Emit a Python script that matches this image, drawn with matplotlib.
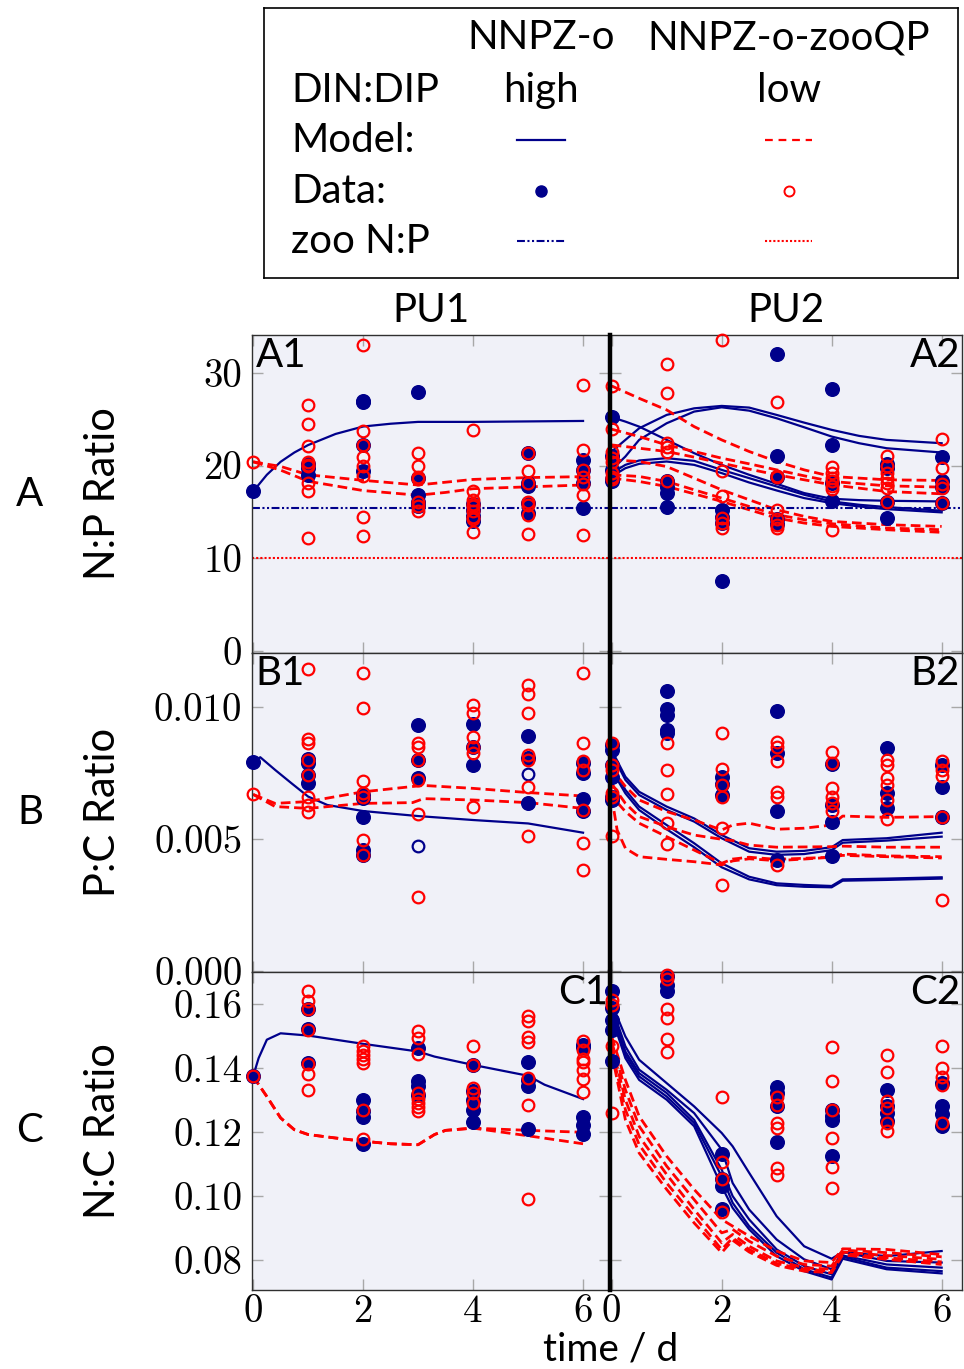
import matplotlib.pyplot as plt
from matplotlib.lines import Line2D

plt.rcParams['font.family'] = ['Lato', 'DejaVu Sans']

NAVY = '#00008b'
RED = '#ff0000'
BG = '#f0f1f8'

# sampling days of the mesocosm data
days = [0, 1, 2, 3, 4, 5, 6]

# ---------------- A: N:P ratio ----------------
a1_high = [[17.2], [20.2, 19.7, 19.0], [27.0, 26.8, 22.2, 19.4],
           [27.9, 18.6, 16.8, 16.1, 15.6], [15.9, 15.2, 14.6, 14.0],
           [21.3, 18.1, 17.8, 16.0, 14.9], [20.6, 19.5, 18.1, 15.4]]
a1_low = [[20.4], [26.5, 24.5, 22.1, 20.4, 20.1, 19.9, 18.1, 17.2, 12.2],
          [33.0, 23.7, 22.2, 20.9, 19.9, 18.9, 14.4, 12.4],
          [21.3, 20.0, 18.8, 18.5, 16.1, 15.6, 15.1],
          [23.8, 17.2, 16.3, 15.9, 15.6, 15.1, 14.5, 14.2, 12.8],
          [21.3, 19.4, 18.1, 16.1, 15.7, 14.7, 12.6],
          [28.7, 21.7, 19.5, 18.8, 18.0, 16.8, 12.5]]
a2_high = [[25.2, 21.0, 19.5, 18.5, 18.3], [18.3, 17.7, 17.0, 15.5],
           [15.2, 14.5, 13.8, 7.6], [32.0, 21.0, 18.8, 14.2, 13.7],
           [28.2, 22.2, 18.1, 16.2], [20.2, 19.7, 16.1, 14.3],
           [20.9, 18.3, 17.7, 16.0]]
a2_low = [[28.6, 23.9, 21.5, 20.8, 20.4, 19.2, 18.8, 18.5],
          [30.9, 27.8, 22.4, 22.0, 21.5, 18.3],
          [33.5, 19.4, 16.7, 14.3, 13.8, 13.3],
          [26.8, 18.9, 18.8, 15.2, 14.2, 13.6, 13.3],
          [19.8, 19.2, 18.6, 18.3, 17.8, 17.5, 13.0],
          [21.0, 19.9, 19.2, 18.6, 18.1, 17.6, 16.1],
          [22.9, 19.7, 18.0, 17.6, 16.0]]

a1_t_high = [0, 0.25, 0.5, 0.75, 1, 1.5, 2, 2.5, 3, 4, 5, 6]
a1_model_high = [[17.2, 19.0, 20.4, 21.4, 22.2, 23.4, 24.2, 24.5, 24.7, 24.7, 24.75, 24.8]]
a1_t_low = [0, 0.5, 1, 2, 3, 3.5, 4, 5, 6]
a1_model_low = [[20.4, 19.9, 19.0, 18.4, 17.9, 18.2, 18.5, 18.7, 18.8],
                [20.4, 19.5, 18.3, 17.3, 16.8, 17.1, 17.5, 17.7, 17.9]]

a2_t_high = [0, 0.25, 0.5, 1, 1.5, 2, 2.5, 3, 3.5, 4, 4.5, 5, 6]
a2_model_high = [
    [25.20, 24.73, 24.19, 22.76, 21.33, 20.07, 19.00, 18.03, 17.03, 16.42, 16.27, 16.20, 16.13],
    [19.18, 20.07, 20.54, 20.79, 20.50, 19.53, 18.64, 17.74, 16.85, 16.13, 15.77, 15.52, 15.13],
    [18.82, 19.71, 20.18, 20.43, 20.07, 19.18, 18.17, 17.31, 16.49, 15.95, 15.59, 15.30, 14.95],
    [21.51, 22.76, 24.01, 25.45, 26.16, 26.42, 26.24, 25.45, 24.62, 23.84, 23.19, 22.76, 22.40],
    [19.53, 20.97, 22.76, 24.55, 25.81, 26.27, 25.91, 25.09, 24.12, 23.12, 22.40, 21.86, 21.40]]
a2_t_low = [0, 0.5, 1, 1.5, 2, 2.5, 3, 3.5, 4, 5, 6]
a2_model_low = [
    [28.57, 27.24, 25.99, 24.19, 22.76, 21.51, 20.43, 19.53, 18.82, 18.46, 18.39],
    [23.91, 23.12, 22.22, 21.51, 20.79, 20.18, 19.53, 18.89, 18.28, 17.81, 17.67],
    [22.22, 21.86, 21.51, 20.90, 20.25, 19.61, 19.00, 18.46, 17.92, 17.20, 16.95],
    [20.61, 20.43, 19.89, 18.64, 17.38, 16.31, 15.23, 14.52, 13.98, 13.62, 13.44],
    [19.00, 18.82, 18.28, 17.38, 16.49, 15.59, 14.70, 14.16, 13.73, 13.26, 13.08],
    [18.64, 18.28, 17.74, 16.95, 16.13, 15.23, 14.34, 13.80, 13.44, 13.08, 12.80]]

zoo_np_high = 15.4
zoo_np_low = 10.0

# ---------------- B: P:C ratio ----------------
b1_high = [[0.00792], [0.00803, 0.00788, 0.00744, 0.00713],
           [0.00669, 0.00656, 0.00584, 0.00461, 0.00439],
           [0.00933, 0.00801, 0.00734], [0.00937, 0.00851, 0.00782],
           [0.00892, 0.00807, 0.00637], [0.0079, 0.00753, 0.00654, 0.00608]]
b1_high_open_t = [3, 5]
b1_high_open = [0.00473, 0.00747]
b1_low = [[0.00671],
          [0.01147, 0.00879, 0.00866, 0.00801, 0.00744, 0.00662, 0.00631, 0.00602],
          [0.01132, 0.00999, 0.00719, 0.00675, 0.00662, 0.00498, 0.00442],
          [0.00866, 0.00851, 0.00801, 0.00725, 0.00596, 0.00282],
          [0.01009, 0.00977, 0.00887, 0.00849, 0.00826, 0.00622],
          [0.01084, 0.0105, 0.0098, 0.0082, 0.00801, 0.0070, 0.00511],
          [0.01129, 0.00866, 0.00795, 0.00763, 0.00612, 0.00486, 0.00385]]
b2_high = [[0.00858, 0.00838, 0.00782, 0.00737, 0.00662, 0.0065],
           [0.01062, 0.00992, 0.00971, 0.00914, 0.00902],
           [0.00737, 0.00708, 0.00669],
           [0.00987, 0.00826, 0.00608, 0.0042],
           [0.00785, 0.0063, 0.00564, 0.00438],
           [0.00847, 0.00674, 0.00618],
           [0.00782, 0.007, 0.00586]]
b2_low = [[0.00864, 0.00782, 0.00763, 0.00674, 0.00662, 0.00513],
          [0.00864, 0.00763, 0.00672, 0.00562, 0.00481],
          [0.00904, 0.00765, 0.00706, 0.00662, 0.00544, 0.00327],
          [0.00869, 0.0085, 0.00795, 0.00681, 0.00662, 0.00404],
          [0.00832, 0.00788, 0.00694, 0.00662, 0.00637, 0.00606],
          [0.00801, 0.00782, 0.00734, 0.00706, 0.00649, 0.00576],
          [0.00795, 0.00763, 0.00741, 0.00586, 0.00269]]

b1_t_high = [0, 0.13, 0.4, 0.7, 1, 1.35, 2, 3, 4, 5, 6]
b1_model_high = [[0.00792, 0.00811, 0.00763, 0.00712, 0.00662, 0.0063,
                  0.00607, 0.00588, 0.00573, 0.0056, 0.00525]]
b1_t_low = [0, 0.4, 1, 2, 2.9, 3.1, 4, 5, 6]
b1_model_low = [[0.0067, 0.00636, 0.00643, 0.0068, 0.0070, 0.00704, 0.00693, 0.00677, 0.00664],
                [0.0067, 0.00624, 0.00617, 0.00636, 0.00639, 0.00654, 0.00649, 0.00639, 0.00617]]

b2_t_high = [0, 0.25, 0.5, 1, 1.5, 2, 2.5, 3, 3.5, 4, 4.2, 5, 6]
b2_model_high = [
    [0.00838, 0.00737, 0.0068, 0.00624, 0.00579, 0.00516, 0.00466, 0.00453, 0.00456, 0.0047, 0.00497, 0.00504, 0.00525],
    [0.00826, 0.00725, 0.00668, 0.00611, 0.00567, 0.00504, 0.00453, 0.00441, 0.00444, 0.00459, 0.00487, 0.00495, 0.0051],
    [0.00782, 0.00687, 0.00624, 0.00554, 0.00485, 0.00409, 0.00358, 0.00333, 0.00327, 0.00323, 0.00348, 0.00351, 0.00356],
    [0.00763, 0.00674, 0.00611, 0.00538, 0.0047, 0.00394, 0.00348, 0.00326, 0.0032, 0.00318, 0.00343, 0.00346, 0.00351]]
b2_t_low = [0, 0.1, 0.25, 0.5, 1, 1.5, 2, 2.2, 2.5, 3, 3.5, 4, 4.2, 5, 6]
b2_model_low = [
    [0.00775, 0.0074, 0.0070, 0.00649, 0.00605, 0.00573, 0.00535, 0.00554, 0.00561, 0.00538, 0.00542, 0.00554, 0.00588, 0.00583, 0.00586],
    [0.00712, 0.0068, 0.00636, 0.00586, 0.00548, 0.00516, 0.0050, 0.00495, 0.00478, 0.0047, 0.00471, 0.00472, 0.00474, 0.0047, 0.0047],
    [0.00662, 0.00535, 0.00466, 0.00434, 0.00424, 0.00415, 0.00403, 0.00418, 0.00426, 0.00419, 0.00425, 0.00432, 0.00444, 0.00437, 0.00434],
    [0.00687, 0.0064, 0.00605, 0.00561, 0.0051, 0.00459, 0.00409, 0.00425, 0.00432, 0.00424, 0.00428, 0.00432, 0.00439, 0.00434, 0.00429]]

# ---------------- C: N:C ratio ----------------
c1_high = [[0.1374], [0.1584, 0.1522, 0.1416], [0.1301, 0.1265, 0.1246, 0.1161],
           [0.1463, 0.136, 0.1343, 0.1317], [0.1409, 0.1327, 0.1301, 0.127, 0.1232],
           [0.1418, 0.1364, 0.1343, 0.1208], [0.1473, 0.1465, 0.1246, 0.1221, 0.1194]]
c1_low = [[0.1374], [0.164, 0.1611, 0.1584, 0.152, 0.1413, 0.1382, 0.1331],
          [0.1468, 0.1454, 0.1442, 0.1428, 0.1416, 0.1268, 0.1179],
          [0.1517, 0.1494, 0.1444, 0.1322, 0.1304, 0.1291, 0.1278, 0.1265],
          [0.1468, 0.1411, 0.1338, 0.1322, 0.1291],
          [0.1562, 0.1546, 0.1496, 0.1483, 0.1369, 0.1286, 0.0989],
          [0.1486, 0.1458, 0.1428, 0.1418, 0.1395, 0.1366, 0.1324]]
c2_high = [[0.164, 0.1588, 0.1551, 0.152, 0.1421], [0.1687, 0.166, 0.1643],
           [0.113, 0.1052, 0.1031, 0.096], [0.1341, 0.1322, 0.1281, 0.1168],
           [0.127, 0.1249, 0.1236, 0.1125], [0.1331, 0.1281, 0.126, 0.1234],
           [0.1353, 0.1281, 0.1255, 0.122]]
c2_low = [[0.1614, 0.1598, 0.1468, 0.1258],
          [0.1692, 0.1678, 0.1584, 0.1556, 0.1491, 0.1452],
          [0.1309, 0.1106, 0.1054, 0.095],
          [0.1309, 0.1286, 0.1229, 0.1211, 0.1086, 0.1064],
          [0.1465, 0.1359, 0.127, 0.1182, 0.109, 0.1024],
          [0.1442, 0.1387, 0.1296, 0.1275, 0.1229, 0.1203],
          [0.147, 0.14, 0.1372, 0.1348, 0.1227]]

c1_t_high = [0, 0.1, 0.25, 0.5, 1, 2, 3, 3.3, 4, 5, 5.3, 6]
c1_model_high = [[0.1374, 0.1431, 0.1489, 0.1509, 0.1502, 0.1476, 0.1452,
                  0.1436, 0.141, 0.1376, 0.1348, 0.1303]]
c1_t_low = [0, 0.25, 0.5, 0.75, 1, 1.5, 2, 2.5, 3, 3.3, 3.5, 4, 5, 6]
c1_model_low = [
    [0.1374, 0.1311, 0.1244, 0.1207, 0.1192, 0.1181, 0.1171, 0.1163, 0.116, 0.1192, 0.1205, 0.1212, 0.1205, 0.1199],
    [0.1374, 0.1311, 0.1244, 0.1207, 0.1192, 0.1181, 0.1171, 0.1163, 0.116, 0.1192, 0.1205, 0.1212, 0.1188, 0.1163]]

c2_t = [0, 0.25, 0.5, 1, 1.5, 2, 2.2, 2.5, 3, 3.5, 4, 4.2, 5, 6]
c2_model_high = [
    [0.1603, 0.1499, 0.1426, 0.1353, 0.128, 0.1197, 0.1155, 0.1072, 0.0936, 0.0842, 0.0803, 0.0824, 0.0811, 0.0827],
    [0.1593, 0.1468, 0.1395, 0.1332, 0.1259, 0.1145, 0.104, 0.0957, 0.0863, 0.0801, 0.077, 0.0824, 0.0796, 0.0791],
    [0.1582, 0.1452, 0.1384, 0.1322, 0.1238, 0.1082, 0.0999, 0.0926, 0.0832, 0.078, 0.0754, 0.0813, 0.0785, 0.0775],
    [0.1572, 0.1442, 0.1374, 0.1311, 0.1228, 0.1061, 0.0978, 0.0905, 0.0822, 0.077, 0.0744, 0.0809, 0.0775, 0.0764],
    [0.1561, 0.1431, 0.1363, 0.1301, 0.1218, 0.103, 0.0962, 0.0895, 0.0811, 0.0764, 0.0738, 0.0803, 0.077, 0.0757]]
c2_model_low = [
    [0.1499, 0.1363, 0.1249, 0.1124, 0.102, 0.0926, 0.0905, 0.0874, 0.0827, 0.0796, 0.0791, 0.0834, 0.0832, 0.0816],
    [0.1483, 0.1332, 0.1218, 0.1093, 0.0988, 0.0884, 0.0895, 0.0858, 0.0811, 0.0785, 0.078, 0.083, 0.0822, 0.0809],
    [0.1473, 0.1301, 0.1186, 0.1067, 0.0957, 0.0853, 0.0879, 0.0842, 0.0796, 0.0775, 0.077, 0.0824, 0.0813, 0.0801],
    [0.1457, 0.127, 0.116, 0.104, 0.0936, 0.0832, 0.0868, 0.0832, 0.0788, 0.077, 0.0764, 0.082, 0.0806, 0.0793],
    [0.1447, 0.1238, 0.1134, 0.102, 0.0915, 0.0822, 0.0861, 0.0824, 0.0782, 0.0764, 0.0759, 0.0815, 0.0801, 0.0785]]

# axis ticks
x_ticks = [0, 2, 4, 6]
x_labels = ['0', '2', '4', '6']
a_ticks = [0, 10, 20, 30]
a_labels = ['0', '10', '20', '30']
b_ticks = [0.0, 0.005, 0.010]
b_labels = ['0.000', '0.005', '0.010']
c_ticks = [0.08, 0.10, 0.12, 0.14, 0.16]
c_labels = ['0.08', '0.10', '0.12', '0.14', '0.16']

# ---------------- figure ----------------
W, H = 964, 1369
fig = plt.figure(figsize=(W / 100, H / 100), dpi=100)


def px_box(x0, y0, x1, y1):
    return [x0 / W, 1 - y1 / H, (x1 - x0) / W, (y1 - y0) / H]


rows = [(335, 653), (653, 972), (972, 1290)]
cols = [(252, 610), (610, 962)]
xlims = [(-0.02, 6.49), (-0.03, 6.37)]
ylims = [(-0.2, 34.06), (-0.00003, 0.01206), (0.0705, 0.1701)]
yticks = [(a_ticks, a_labels), (b_ticks, b_labels), (c_ticks, c_labels)]

panels = [
    [(a1_high, a1_low, a1_t_high, a1_model_high, a1_t_low, a1_model_low),
     (a2_high, a2_low, a2_t_high, a2_model_high, a2_t_low, a2_model_low)],
    [(b1_high, b1_low, b1_t_high, b1_model_high, b1_t_low, b1_model_low),
     (b2_high, b2_low, b2_t_high, b2_model_high, b2_t_low, b2_model_low)],
    [(c1_high, c1_low, c1_t_high, c1_model_high, c1_t_low, c1_model_low),
     (c2_high, c2_low, c2_t, c2_model_high, c2_t, c2_model_low)],
]
names = [['A1', 'A2'], ['B1', 'B2'], ['C1', 'C2']]
name_left = [[True, False], [True, False], [False, False]]

axes = []
for r, (y0, y1) in enumerate(rows):
    for c, (x0, x1) in enumerate(cols):
        ax = fig.add_axes(px_box(x0, y0, x1, y1))
        ax.set_facecolor(BG)
        ax.set_xlim(*xlims[c])
        ax.set_ylim(*ylims[r])
        high, low, th, mh, tl, ml = panels[r][c]

        for vals in mh:
            ax.plot(th, vals, '-', color=NAVY, lw=1.6, zorder=2)
        for vals in ml:
            ax.plot(tl, vals, '--', color=RED, lw=2, dashes=(3.5, 1.8), zorder=2)
        if r == 0:
            ax.axhline(zoo_np_high, color=NAVY, lw=1.5, dashes=(3.8, 1.2, 1, 1.2, 1, 1.2), zorder=2)
            ax.axhline(zoo_np_low, color=RED, lw=1.5, dashes=(1, 1), zorder=2)

        for t, vals in zip(days, high):
            ax.plot([t] * len(vals), vals, 'o', color=NAVY, ms=9.8, mec=NAVY,
                    ls='none', clip_on=False, zorder=3)
        if r == 1 and c == 0:
            ax.plot(b1_high_open_t, b1_high_open, 'o', mfc='none', mec=NAVY, ms=8.4,
                    mew=1.6, ls='none', clip_on=False, zorder=3)
        for t, vals in zip(days, low):
            ax.plot([t] * len(vals), vals, 'o', mfc='none', mec=RED, ms=8.4, mew=1.6,
                    ls='none', clip_on=False, zorder=4)

        ticks, labels = yticks[r]
        if c == 0:
            ax.set_yticks(ticks, labels, fontfamily='cmr10', fontsize=28)
        else:
            ax.set_yticks(ticks)
            ax.tick_params(labelleft=False)
        if r == 2:
            ax.set_xticks(x_ticks, x_labels, fontfamily='cmr10', fontsize=28)
        else:
            ax.set_xticks(x_ticks)
            ax.tick_params(labelbottom=False)
        ax.tick_params(direction='in', length=8, width=1, color='#a8a8a8',
                       top=True, right=True, pad=7)
        ax.tick_params(axis='x', pad=3)

        for sp in ax.spines.values():
            sp.set_color('#303030')
            sp.set_linewidth(1.0)
        if c == 1:
            ax.spines['left'].set_color('black')
            ax.spines['left'].set_linewidth(3.2)
            ax.spines['left'].set_zorder(10)

        if name_left[r][c]:
            ax.text(0.01, 0.995, names[r][c], transform=ax.transAxes, ha='left',
                    va='top', fontsize=29)
        else:
            ax.text(0.995, 0.995, names[r][c], transform=ax.transAxes, ha='right',
                    va='top', fontsize=29)
        axes.append(ax)

# row and column annotations
row_letters = ['A', 'B', 'C']
row_titles = ['N:P Ratio', 'P:C Ratio', 'N:C Ratio']
for r, (y0, y1) in enumerate(rows):
    yc = 1 - (y0 + y1) / 2 / H
    fig.text(30 / W, yc, row_letters[r], ha='center', va='center', fontsize=29)
    fig.text(103 / W, yc, row_titles[r], ha='center', va='center', fontsize=30,
             rotation=90)
fig.text(431 / W, 1 - 310 / H, 'PU1', ha='center', va='center', fontsize=29)
fig.text(786 / W, 1 - 310 / H, 'PU2', ha='center', va='center', fontsize=29)
fig.text(611 / W, 1 - 1368 / H, 'time / d', ha='center', va='bottom', fontsize=28)

# key table above the panels
leg = fig.add_axes(px_box(264, 8, 958, 278))
leg.set_xlim(0, 1)
leg.set_ylim(0, 1)
leg.set_xticks([])
leg.set_yticks([])
for sp in leg.spines.values():
    sp.set_linewidth(1.2)
    sp.set_color('black')

col1, col2, lab_x = 0.399, 0.756, 0.039
row_y = [0.889, 0.696, 0.511, 0.322, 0.137]
fs = 29
leg.text(col1, row_y[0], 'NNPZ-o', ha='center', va='center', fontsize=fs)
leg.text(col2, row_y[0], 'NNPZ-o-zooQP', ha='center', va='center', fontsize=fs)
leg.text(lab_x, row_y[1], 'DIN:DIP', ha='left', va='center', fontsize=fs)
leg.text(col1, row_y[1], 'high', ha='center', va='center', fontsize=fs)
leg.text(col2, row_y[1], 'low', ha='center', va='center', fontsize=fs)
leg.text(lab_x, row_y[2], 'Model:', ha='left', va='center', fontsize=fs)
leg.text(lab_x, row_y[3], 'Data:', ha='left', va='center', fontsize=fs)
leg.text(lab_x, row_y[4], 'zoo N:P', ha='left', va='center', fontsize=fs)

hw = 0.034
leg.add_line(Line2D([col1 - hw, col1 + hw], [row_y[2]] * 2, color=NAVY, lw=1.6))
leg.add_line(Line2D([col2 - hw, col2 + hw], [row_y[2]] * 2, color=RED, lw=1.6,
                    dashes=(3.5, 2.6)))
leg.plot([col1], [row_y[3]], 'o', color=NAVY, ms=8)
leg.plot([col2], [row_y[3]], 'o', mfc='none', mec=RED, ms=7.2, mew=1.4)
leg.add_line(Line2D([col1 - hw, col1 + hw], [row_y[4]] * 2, color=NAVY, lw=1.5,
                    dashes=(3.8, 1.2, 1, 1.2, 1, 1.2)))
leg.add_line(Line2D([col2 - hw, col2 + hw], [row_y[4]] * 2, color=RED, lw=1.5,
                    dashes=(1, 1)))

fig.savefig('out.png', dpi=100)
